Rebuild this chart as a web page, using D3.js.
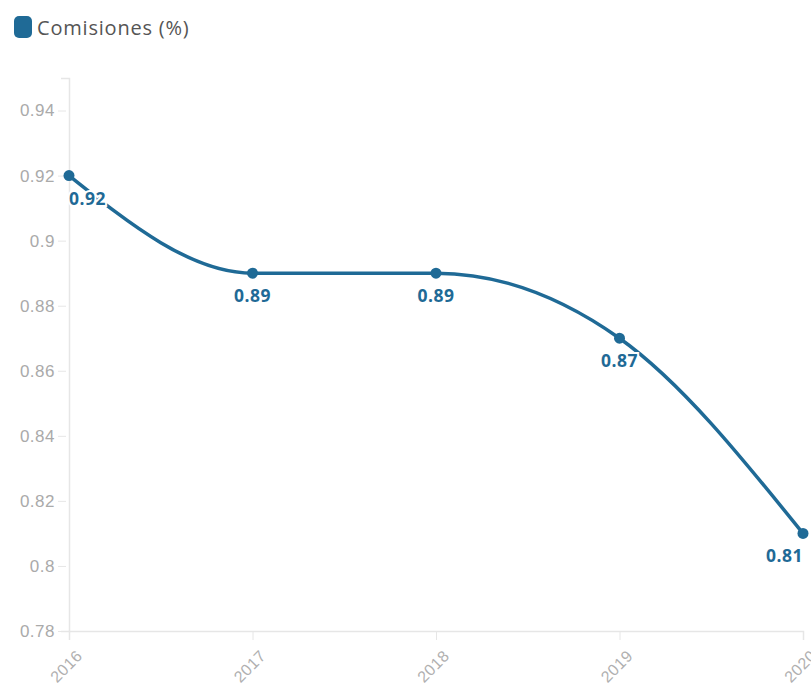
<!DOCTYPE html>
<html>
<head>
<meta charset="utf-8">
<script src="https://cdn.jsdelivr.net/npm/d3@7"></script>
<style>
  body { margin: 0; background: #fff; }
  svg { display: block; font-family: "Open Sans", "Noto Sans", sans-serif; }
</style>
</head>
<body>
<div id="app"></div>
<script>
const years = ["2016", "2017", "2018", "2019", "2020"];
const comisiones = [0.92, 0.89, 0.89, 0.87, 0.81];
const yTicks = [0.78, 0.8, 0.82, 0.84, 0.86, 0.88, 0.9, 0.92, 0.94];
const seriesName = "Comisiones (%)";

const width = 811, height = 691;
const margin = { top: 78, right: 8, bottom: 60, left: 69 };
const color = "#1f6a96";

const svg = d3.select("#app").append("svg")
  .attr("width", width)
  .attr("height", height);

// legend
svg.append("rect")
  .attr("x", 14).attr("y", 16)
  .attr("width", 18).attr("height", 22)
  .attr("rx", 5)
  .attr("fill", color);
svg.append("text")
  .attr("x", 37).attr("y", 35)
  .attr("font-size", 20)
  .attr("letter-spacing", 0.8)
  .attr("fill", "#555")
  .text(seriesName);

const x = d3.scalePoint()
  .domain(years)
  .range([margin.left, width - margin.right]);

const y = d3.scaleLinear()
  .domain([0.78, 0.95])
  .range([height - margin.bottom, margin.top]);

// y axis
const yAxis = svg.append("g")
  .attr("transform", `translate(${margin.left},0)`)
  .call(d3.axisLeft(y).tickValues(yTicks).tickFormat(d => String(+d.toFixed(2))).tickSize(8).tickPadding(6));
yAxis.select(".domain").attr("stroke", "#e6e6e6").attr("stroke-width", 1.5);
yAxis.selectAll(".tick line").attr("stroke", "#e6e6e6").attr("x2", -11).attr("x1", -3);
yAxis.selectAll(".tick text").attr("fill", "#aaa").attr("font-size", 17)
  .attr("letter-spacing", 0.5);

// x axis
const xAxis = svg.append("g")
  .attr("transform", `translate(0,${height - margin.bottom})`)
  .call(d3.axisBottom(x).tickSize(9).tickPadding(0));
xAxis.select(".domain").attr("stroke", "#e6e6e6").attr("stroke-width", 1.5);
xAxis.selectAll(".tick line").attr("stroke", "#e6e6e6");
xAxis.selectAll(".tick text")
  .attr("fill", "#b0b0b0")
  .attr("font-size", 16)
  .attr("letter-spacing", 0.5)
  .attr("text-anchor", "end")
  .attr("x", 0).attr("y", 0)
  .attr("dy", "0.35em")
  .attr("transform", "translate(10,22) rotate(-45)");

const data = years.map((yr, i) => ({ year: yr, value: comisiones[i] }));

const line = d3.line()
  .x(d => x(d.year))
  .y(d => y(d.value))
  .curve(d3.curveMonotoneX);

svg.append("path")
  .datum(data)
  .attr("fill", "none")
  .attr("stroke", color)
  .attr("stroke-width", 3.5)
  .attr("d", line);

svg.append("g").selectAll("circle")
  .data(data)
  .join("circle")
  .attr("cx", d => x(d.year))
  .attr("cy", d => y(d.value))
  .attr("r", 5.5)
  .attr("fill", color);

// value labels with white halo, kept inside the plot area
const labels = svg.append("g").selectAll("text")
  .data(data)
  .join("text")
  .attr("x", d => x(d.year))
  .attr("y", d => y(d.value) + 29)
  .attr("text-anchor", "middle")
  .attr("font-size", 17.5)
  .attr("font-weight", "bold")
  .attr("letter-spacing", 0.5)
  .attr("fill", color)
  .attr("stroke", "#fff")
  .attr("stroke-width", 4)
  .attr("paint-order", "stroke")
  .text(d => d.value);

labels.each(function(d) {
  const w = this.getBBox().width;
  const cx = x(d.year);
  const minX = margin.left + w / 2;
  const maxX = width - margin.right - w / 2;
  d3.select(this).attr("x", Math.max(minX, Math.min(maxX, cx)));
});
</script>
</body>
</html>
